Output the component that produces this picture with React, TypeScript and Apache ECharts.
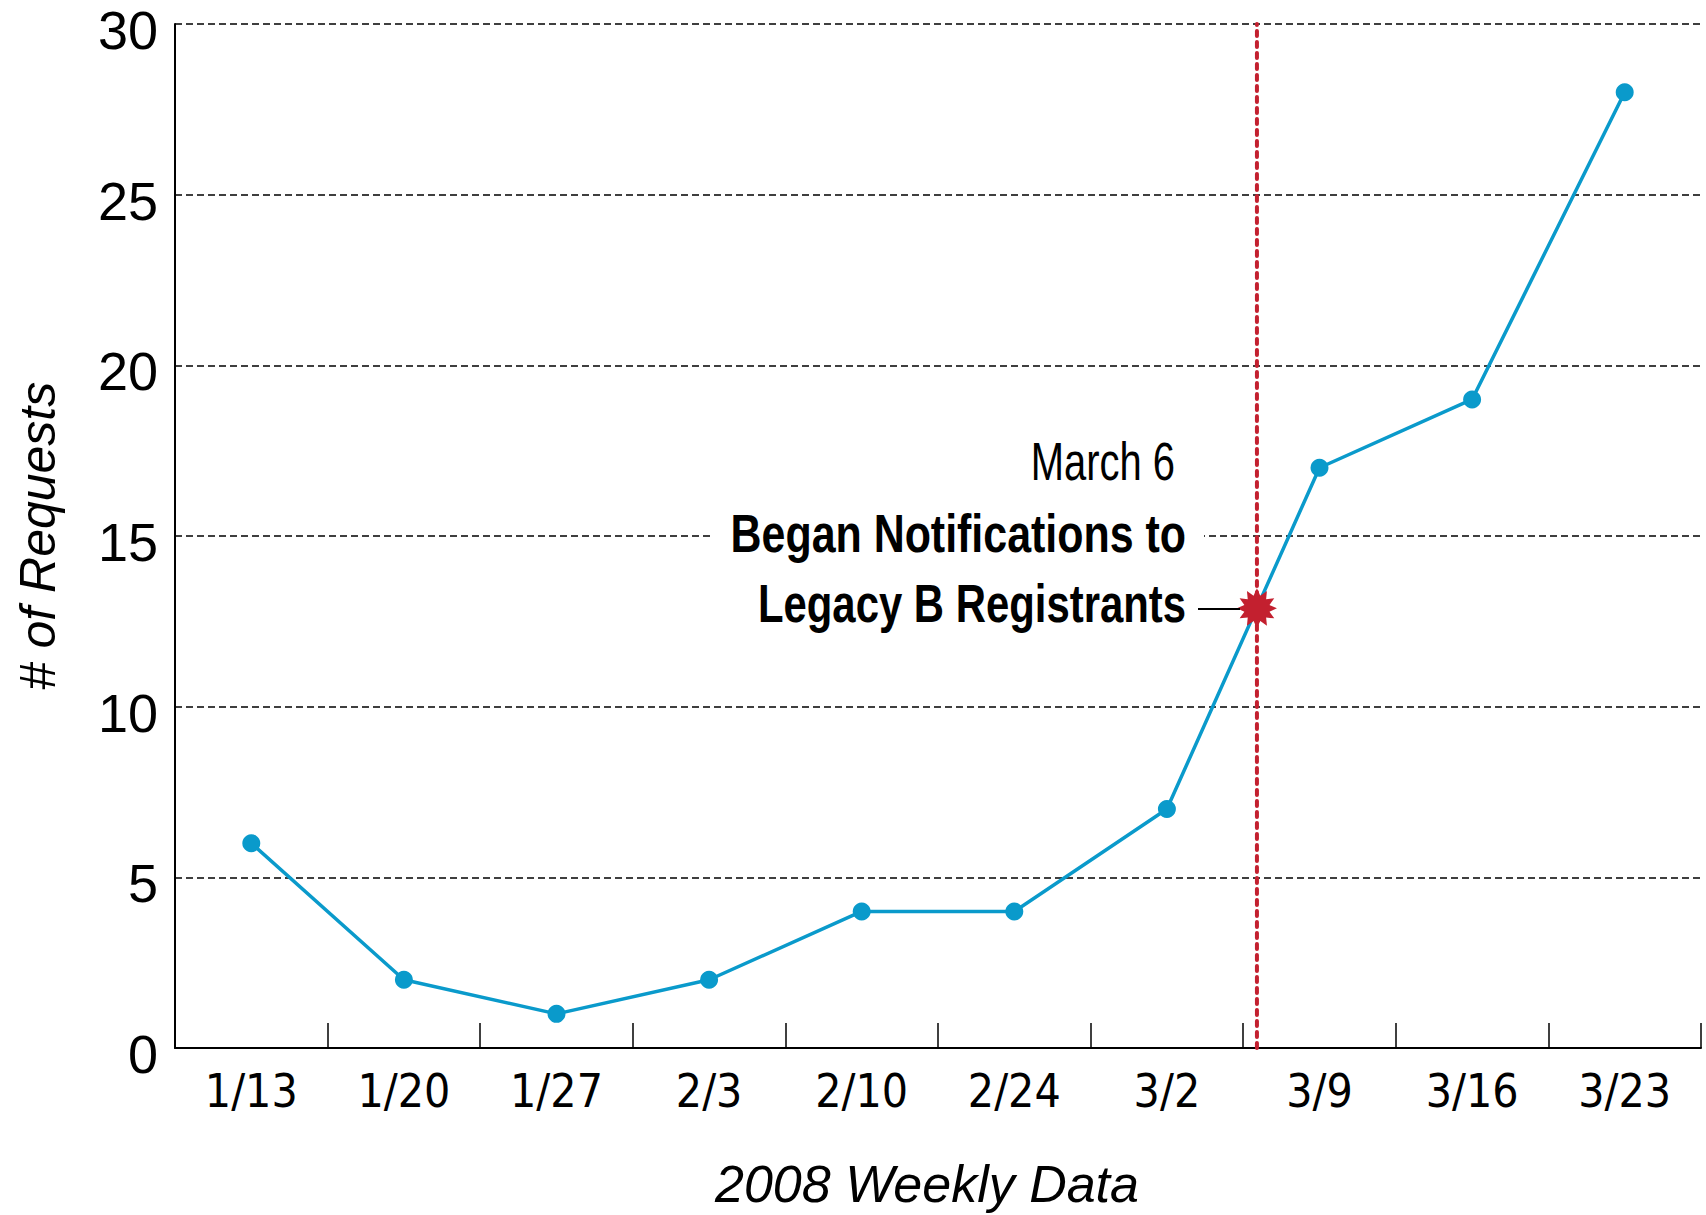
import React, { useEffect, useRef } from "react";
import * as echarts from "echarts";

const categories = ["1/13", "1/20", "1/27", "2/3", "2/10", "2/24", "3/2", "3/9", "3/16", "3/23"];
const requests = [6, 2, 1, 2, 4, 4, 7, 17, 19, 28];
const yMin = 0;
const yMax = 30;
const yInterval = 5;
// Event annotation (March 6) expressed in category-index units / request units
const eventX = [6.59];
const eventY = [12.88];
const annotationLines = ["March 6", "Began Notifications to", "Legacy B Registrants"];

const NARROW = '"DejaVu Sans Condensed", "Liberation Sans Narrow", sans-serif';
const REG = '"Liberation Sans", Arial, sans-serif';

function starPath(points: number, outer: number, inner: number): string {
  const parts: string[] = [];
  for (let i = 0; i < points * 2; i++) {
    const r = i % 2 === 0 ? outer : inner;
    const a = (Math.PI * i) / points - Math.PI / 2;
    const x = (outer + r * Math.cos(a)).toFixed(2);
    const y = (outer + r * Math.sin(a)).toFixed(2);
    parts.push((i === 0 ? "M" : "L") + x + " " + y);
  }
  return "path://" + parts.join(" ") + " Z";
}

export default function App() {
  const ref = useRef<HTMLDivElement>(null);
  useEffect(() => {
    if (!ref.current) return;
    const chart = echarts.init(ref.current, null, { renderer: "svg" });
    const option: any = {
      animation: false,
      backgroundColor: "#ffffff",
      grid: {
        left: 175,
        right: 5,
        top: 24,
        bottom: 167,
        containLabel: false,
        outerBoundsMode: "none",
      },
      xAxis: [
        {
          type: "category",
          data: categories,
          boundaryGap: true,
          axisLine: { show: true, onZero: false, lineStyle: { color: "#000", width: 2 } },
          axisTick: { show: true, inside: true, length: 25, lineStyle: { color: "#000", width: 1.5 } },
          axisLabel: { color: "#000", fontSize: 46, fontFamily: NARROW, margin: 20 },
          splitLine: { show: false },
          name: "2008 Weekly Data",
          nameLocation: "middle",
          nameGap: 110,
          nameTextStyle: {
            color: "#000",
            fontSize: 52,
            fontStyle: "italic",
            fontFamily: REG,
            padding: [0, 22, 0, 0],
          },
        },
        {
          type: "value",
          min: -0.5,
          max: 9.5,
          show: false,
        },
      ],
      yAxis: {
        type: "value",
        min: yMin,
        max: yMax,
        interval: yInterval,
        axisLine: { show: true, onZero: false, lineStyle: { color: "#000", width: 2 } },
        axisTick: { show: false },
        axisLabel: {
          margin: 17,
          formatter: "{v|{value}}",
          rich: {
            v: {
              color: "#000",
              fontSize: 54,
              fontFamily: REG,
              lineHeight: 20,
              padding: [12, 0, 0, 0],
            },
          },
        },
        splitLine: { show: true, lineStyle: { color: "#000", width: 1.5, type: [7, 4] } },
        name: "# of Requests",
        nameLocation: "middle",
        nameGap: 112,
        nameRotate: 90,
        nameTextStyle: { color: "#000", fontSize: 50, fontStyle: "italic", fontFamily: REG },
      },
      series: [
        {
          type: "line",
          data: requests,
          xAxisIndex: 0,
          symbol: "circle",
          symbolSize: 18,
          showSymbol: true,
          lineStyle: { color: "#0a9acb", width: 3.5 },
          itemStyle: { color: "#0a9acb", opacity: 1 },
          z: 3,
        },
        {
          type: "line",
          xAxisIndex: 1,
          data: [
            [eventX[0], yMin],
            [eventX[0], yMax],
          ],
          symbol: "none",
          lineStyle: { color: "#c3202f", width: 4, type: [5, 6], cap: "round" },
          z: 4,
        },
        {
          type: "scatter",
          xAxisIndex: 1,
          data: [[eventX[0], eventY[0]]],
          symbol: starPath(12, 20, 13),
          symbolSize: 40,
          itemStyle: { color: "#c3202f", opacity: 1 },
          z: 5,
        },
      ],
      graphic: [
        {
          type: "rect",
          z: 10,
          shape: { x: 713, y: 512, width: 491, height: 46 },
          style: { fill: "#ffffff" },
        },
        {
          type: "text",
          z: 11,
          x: 1175,
          y: 461,
          scaleX: 0.74,
          style: {
            text: annotationLines[0],
            fill: "#000",
            font: "54px " + REG,
            align: "right",
            verticalAlign: "middle",
          },
        },
        {
          type: "text",
          z: 11,
          x: 1186,
          y: 533,
          scaleX: 0.81,
          style: {
            text: annotationLines[1],
            fill: "#000",
            font: "bold 53px " + REG,
            align: "right",
            verticalAlign: "middle",
          },
        },
        {
          type: "text",
          z: 11,
          x: 1186,
          y: 604,
          scaleX: 0.79,
          style: {
            text: annotationLines[2],
            fill: "#000",
            font: "bold 53px " + REG,
            align: "right",
            verticalAlign: "middle",
          },
        },
        {
          type: "line",
          z: 11,
          shape: { x1: 1198, y1: 609, x2: 1240, y2: 609 },
          style: { stroke: "#000", lineWidth: 2 },
        },
      ],
    };
    chart.setOption(option);
    return () => chart.dispose();
  }, []);
  return (
    <div
      ref={ref}
      style={{ position: "fixed", left: 0, top: 0, width: 1706, height: 1215, background: "#fff" }}
    />
  );
}
